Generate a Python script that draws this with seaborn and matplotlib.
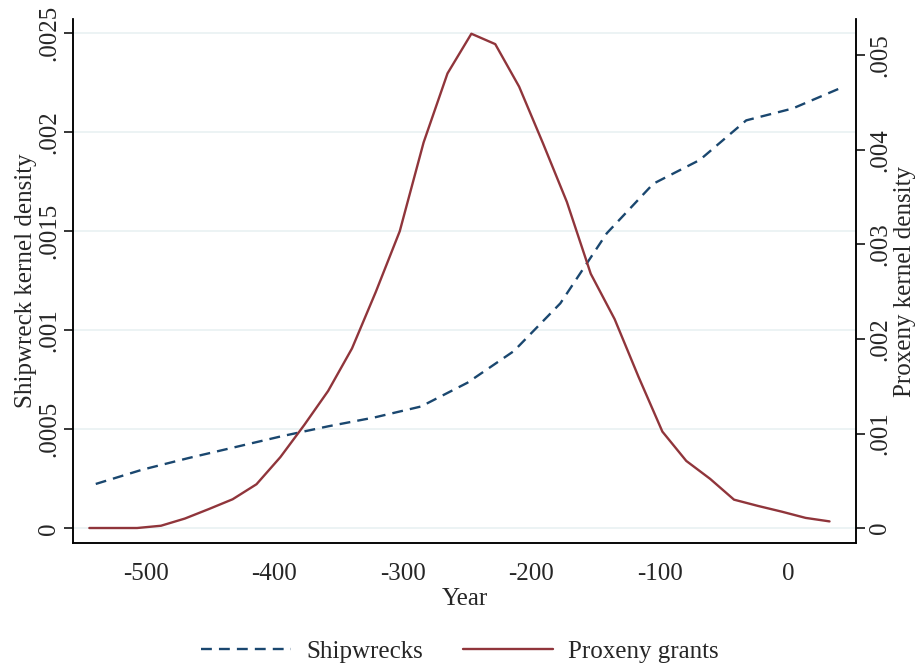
import numpy as np
import pandas as pd
import matplotlib
matplotlib.use("Agg")
import matplotlib.pyplot as plt
import seaborn as sns

# kernel density estimates
ship_year = [-539.2, -503.0, -466.8, -430.6, -394.4, -358.2, -322.0, -285.9, -249.7,
             -213.5, -177.3, -141.1, -104.9, -68.7, -32.5, 3.7, 39.8]
ship_density = [0.000224, 0.000296, 0.000355, 0.000410, 0.000465, 0.000515, 0.000560,
                0.000615, 0.000735, 0.000895, 0.001136, 0.00149, 0.00174, 0.00186,
                0.00206, 0.00212, 0.00222]

prox_year = [-544.2, -525.6, -507.0, -488.4, -469.8, -451.2, -432.6, -414.0, -395.4,
             -376.8, -358.2, -339.6, -321.0, -302.4, -283.8, -265.2, -246.6, -228.0,
             -209.4, -190.8, -172.2, -153.6, -135.0, -116.4, -97.8, -79.2, -60.6,
             -42.0, -23.4, -4.8, 13.8, 32.4]
prox_density = [0.0, 0.0, 0.0, 0.000024, 0.0001, 0.0002, 0.000304, 0.000463, 0.00075,
                0.00109, 0.00145, 0.0019, 0.0025, 0.00314, 0.00408, 0.00481, 0.00523,
                0.00512, 0.00467, 0.00407, 0.00345, 0.00269, 0.00221, 0.0016, 0.00102,
                0.00071, 0.00052, 0.0003, 0.000234, 0.000173, 0.000107, 0.00007]

left_ticks = [0, 0.0005, 0.001, 0.0015, 0.002, 0.0025]
left_labels = ["0", ".0005", ".001", ".0015", ".002", ".0025"]
right_ticks = [0, 0.001, 0.002, 0.003, 0.004, 0.005]
right_labels = ["0", ".001", ".002", ".003", ".004", ".005"]
x_ticks = [-500, -400, -300, -200, -100, 0]

ship = pd.DataFrame({"year": ship_year, "density": ship_density})
prox = pd.DataFrame({"year": prox_year, "density": prox_density})

sns.set_theme(style="white")
plt.rcParams["font.family"] = ["Liberation Serif", "DejaVu Serif"]
fs = 18

navy = "#1a476f"
maroon = "#90353b"
grid_col = "#eaf2f3"

fig = plt.figure(figsize=(9.22, 6.66), dpi=100)
ax = fig.add_axes([0.0795, 0.1842, 0.8486, 0.7873])
ax2 = ax.twinx()

sns.lineplot(data=ship, x="year", y="density", ax=ax, color=navy, linewidth=1.7,
             linestyle=(0, (4.6, 3.0)), label="Shipwrecks", legend=False)
sns.lineplot(data=prox, x="year", y="density", ax=ax2, color=maroon, linewidth=1.7,
             label="Proxeny grants", legend=False)

ax.set_xlim(-556.7, 52.8)
ax.set_ylim(-0.0000758, 0.002572)
ax2.set_ylim(-0.000162, 0.005386)

ax.set_xticks(x_ticks)
ax.set_xticklabels([str(t) for t in x_ticks])
ax.set_yticks(left_ticks)
ax.set_yticklabels(left_labels, rotation=90, va="center")
ax2.set_yticks(right_ticks)
ax2.set_yticklabels(right_labels, rotation=90, va="center")

for a in (ax, ax2):
    a.spines["top"].set_visible(False)
    for s in ("left", "right", "bottom"):
        a.spines[s].set_linewidth(1.1)
        a.spines[s].set_color("black")
    a.tick_params(direction="out", length=6.5, width=1.1, color="black",
                  labelsize=fs, pad=3)
    a.grid(False)
ax.tick_params(axis="x", pad=8)

ax.yaxis.grid(True, color=grid_col, linewidth=1.3)
ax.set_axisbelow(True)

ax.set_xlabel("Year", fontsize=fs, labelpad=2)
ax.set_ylabel("Shipwreck kernel density", fontsize=fs, labelpad=1)
ax2.set_ylabel("Proxeny kernel density", fontsize=fs, labelpad=2)

handles = ax.get_lines()[:1] + ax2.get_lines()[:1]
fig.legend(handles, ["Shipwrecks", "Proxeny grants"], loc="center",
           bbox_to_anchor=(0.499, 0.022), ncol=2, frameon=False, fontsize=fs,
           handlelength=3.6, handletextpad=0.6, columnspacing=1.6)

fig.savefig("out.png", dpi=100)
